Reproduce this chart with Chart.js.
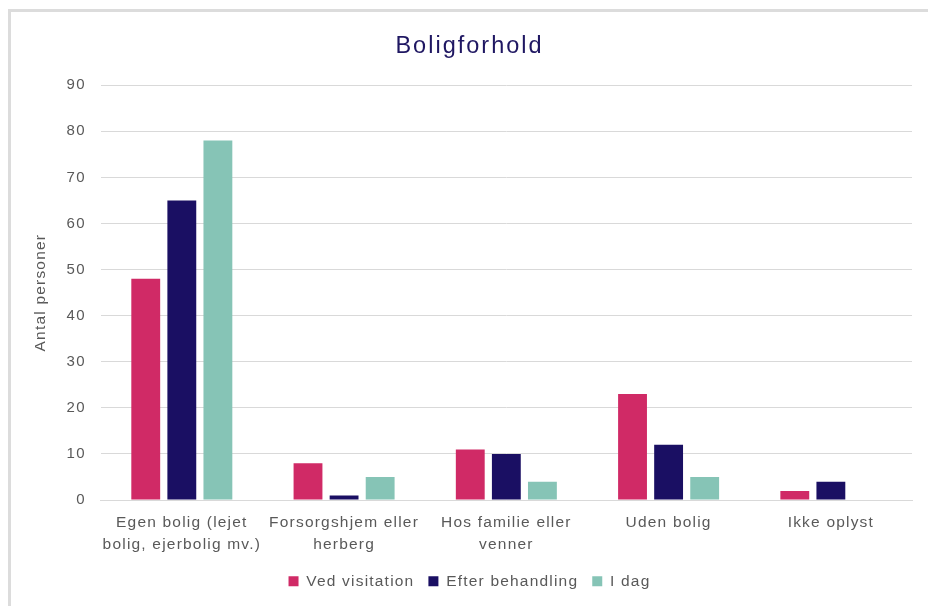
<!DOCTYPE html>
<html>
<head>
<meta charset="utf-8">
<script src="https://cdn.jsdelivr.net/npm/chart.js@4"></script>
<style>
    html, body {margin: 0; padding: 0; background: #ffffff;}
    #ramme {
        position: absolute; left: 8px; top: 9px; width: 930px; height: 610px;
        border-top: 3px solid #dcdcdc; border-left: 3px solid #dcdcdc;
    }
    #boks {position: absolute; left: 11px; top: 12px; width: 917px; height: 594px;}
</style>
</head>
<body>
<div id="ramme"></div>
<div id="boks"><canvas id="graficoBolig"></canvas></div>
<script>
const kategorier = [
    ['Egen bolig (lejet', 'bolig, ejerbolig mv.)'],
    ['Forsorgshjem eller', 'herberg'],
    ['Hos familie eller', 'venner'],
    'Uden bolig',
    'Ikke oplyst'
];
const vedVisitation = [48, 8, 11, 23, 2];
const efterBehandling = [65, 1, 10, 12, 4];
const iDag = [78, 5, 4, 5, 0];
const yTicks = [0, 10, 20, 30, 40, 50, 60, 70, 80, 90];

// the original text is a bit spread out, so widen it a little
const spredtTekst = {
    id: 'spredtTekst',
    beforeLayout: chart => { chart.ctx.letterSpacing = '1.2px'; },
    beforeDraw: chart => { chart.ctx.letterSpacing = '1.2px'; }
};

const ctxBolig = document.getElementById('graficoBolig').getContext('2d');

const grafBolig = new Chart(ctxBolig, {
    type: 'bar',
    data: {
        labels: kategorier,
        datasets: [{
            label: 'Ved visitation',
            data: vedVisitation,
            backgroundColor: '#D02A66'
        }, {
            label: 'Efter behandling',
            data: efterBehandling,
            backgroundColor: '#1A0F63'
        }, {
            label: 'I dag',
            data: iDag,
            backgroundColor: '#86C4B6'
        }]
    },
    plugins: [spredtTekst],
    options: {
        responsive: true,
        maintainAspectRatio: false,
        animation: false,
        datasets: {bar: {categoryPercentage: 0.667, barPercentage: 0.8}},
        layout: {padding: {top: 15, right: 16, left: 16, bottom: 7}},
        plugins: {
            title: {
                display: true,
                text: 'Boligforhold',
                color: '#1F1762',
                font: {family: 'Liberation Sans', size: 23.5, weight: 'normal'},
                padding: {top: 5, bottom: 25}
            },
            legend: {
                position: 'bottom',
                labels: {
                    color: '#595959',
                    font: {family: 'Liberation Sans', size: 15.5},
                    boxWidth: 10,
                    boxHeight: 10,
                    padding: 14
                }
            },
            tooltip: {enabled: false}
        },
        scales: {
            x: {
                grid: {display: false},
                border: {color: '#d9d9d9'},
                ticks: {
                    color: '#595959',
                    font: {family: 'Liberation Sans', size: 15.5, lineHeight: 1.4},
                    maxRotation: 0,
                    autoSkip: false,
                    padding: 4
                }
            },
            y: {
                min: 0,
                max: 90,
                afterBuildTicks: axis => { axis.ticks = yTicks.map(v => ({value: v})); },
                grid: {color: '#d9d9d9', drawTicks: false},
                border: {display: false},
                ticks: {
                    color: '#595959',
                    font: {family: 'Liberation Sans', size: 15},
                    padding: 15
                },
                title: {
                    display: true,
                    text: 'Antal personer',
                    color: '#595959',
                    font: {family: 'Liberation Sans', size: 15.5},
                    padding: {bottom: 2}
                }
            }
        }
    }
});

// title gets a bit more spacing than the rest
const tegnTitel = grafBolig.titleBlock.draw.bind(grafBolig.titleBlock);
grafBolig.titleBlock.draw = function () {
    const c = this.ctx;
    c.letterSpacing = '2px';
    tegnTitel();
    c.letterSpacing = '1.2px';
};
grafBolig.update();
</script>
</body>
</html>
